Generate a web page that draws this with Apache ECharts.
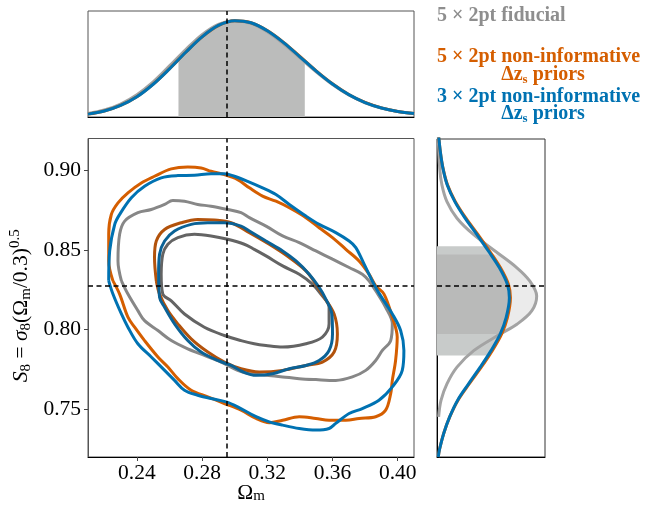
<!DOCTYPE html>
<html>
<head>
<meta charset="utf-8">
<script src="https://cdn.jsdelivr.net/npm/echarts@6/dist/echarts.min.js"></script>
<style>
html,body{margin:0;padding:0;background:#fff;}
#chart{width:647px;height:506px;}
</style>
</head>
<body>
<div id="chart"></div>
<script>
// ---------------- data ----------------
const omTicks = [0.24, 0.28, 0.32, 0.36, 0.40];
const s8Ticks = [0.75, 0.80, 0.85, 0.90];
const fidOm = 0.295;
const fidS8 = 0.8275;

const legendLabels = ['5 × 2pt fiducial', '5 × 2pt non-informative', 'Δz', '3 × 2pt non-informative'];

// 2D contours [Omega_m, S8]
const grayOuter = [[0.2305,0.8306],[0.2284,0.8431],[0.2294,0.8598],[0.2325,0.8681],[0.2406,0.8734],[0.2488,0.8754],[0.2570,0.8786],[0.2620,0.8811],[0.2692,0.8806],[0.2773,0.8786],[0.2855,0.8775],[0.2957,0.8754],[0.3039,0.8734],[0.3090,0.8703],[0.3192,0.8650],[0.3294,0.8588],[0.3396,0.8546],[0.3498,0.8494],[0.3600,0.8442],[0.3702,0.8390],[0.3783,0.8348],[0.3824,0.8306],[0.3865,0.8244],[0.3926,0.8140],[0.3967,0.8036],[0.3957,0.7931],[0.3906,0.7869],[0.3865,0.7806],[0.3804,0.7744],[0.3722,0.7703],[0.3620,0.7681],[0.3498,0.7686],[0.3396,0.7692],[0.3294,0.7703],[0.3192,0.7713],[0.3090,0.7723],[0.3018,0.7744],[0.2917,0.7796],[0.2814,0.7838],[0.2712,0.7879],[0.2611,0.7931],[0.2529,0.7994],[0.2447,0.8056],[0.2406,0.8119],[0.2345,0.8223]];
const grayInner = [[0.2549,0.8348],[0.2559,0.8473],[0.2590,0.8536],[0.2651,0.8578],[0.2753,0.8598],[0.2855,0.8588],[0.2957,0.8567],[0.3059,0.8536],[0.3120,0.8504],[0.3192,0.8463],[0.3294,0.8400],[0.3396,0.8348],[0.3477,0.8286],[0.3529,0.8223],[0.3579,0.8140],[0.3579,0.8036],[0.3538,0.7953],[0.3437,0.7911],[0.3294,0.7890],[0.3192,0.7900],[0.3120,0.7911],[0.3039,0.7931],[0.2937,0.7963],[0.2814,0.8015],[0.2692,0.8098],[0.2611,0.8181],[0.2559,0.8223]];
const orangeOuter = [[0.2253,0.8306],[0.2227,0.8431],[0.2227,0.8598],[0.2243,0.8723],[0.2284,0.8796],[0.2345,0.8859],[0.2427,0.8921],[0.2508,0.8963],[0.2611,0.9009],[0.2712,0.9021],[0.2794,0.9015],[0.2855,0.8994],[0.2937,0.8973],[0.3018,0.8942],[0.3090,0.8890],[0.3171,0.8838],[0.3253,0.8806],[0.3335,0.8765],[0.3437,0.8703],[0.3518,0.8640],[0.3600,0.8578],[0.3682,0.8504],[0.3763,0.8431],[0.3824,0.8348],[0.3865,0.8275],[0.3916,0.8223],[0.3967,0.8078],[0.3997,0.7953],[0.3987,0.7806],[0.3967,0.7681],[0.3957,0.7598],[0.3926,0.7494],[0.3865,0.7453],[0.3763,0.7442],[0.3682,0.7431],[0.3579,0.7431],[0.3498,0.7442],[0.3396,0.7453],[0.3294,0.7431],[0.3212,0.7415],[0.3131,0.7442],[0.3039,0.7494],[0.2937,0.7536],[0.2835,0.7578],[0.2733,0.7619],[0.2651,0.7692],[0.2590,0.7765],[0.2529,0.7828],[0.2447,0.7931],[0.2386,0.8015],[0.2345,0.8078],[0.2294,0.8223]];
const orangeInner = [[0.2519,0.8306],[0.2508,0.8453],[0.2519,0.8556],[0.2570,0.8629],[0.2672,0.8671],[0.2773,0.8692],[0.2876,0.8688],[0.2978,0.8671],[0.3090,0.8609],[0.3212,0.8536],[0.3335,0.8453],[0.3437,0.8369],[0.3498,0.8286],[0.3549,0.8203],[0.3610,0.8098],[0.3630,0.7973],[0.3610,0.7859],[0.3538,0.7796],[0.3437,0.7775],[0.3294,0.7744],[0.3151,0.7734],[0.3039,0.7754],[0.2937,0.7796],[0.2835,0.7859],[0.2733,0.7942],[0.2651,0.8036],[0.2590,0.8119],[0.2539,0.8223]];
const blueOuter = [[0.2227,0.8306],[0.2233,0.8494],[0.2264,0.8661],[0.2294,0.8723],[0.2366,0.8828],[0.2447,0.8900],[0.2549,0.8953],[0.2651,0.8967],[0.2753,0.8969],[0.2855,0.8978],[0.2937,0.8978],[0.2998,0.8963],[0.3079,0.8931],[0.3171,0.8890],[0.3253,0.8848],[0.3335,0.8786],[0.3437,0.8713],[0.3518,0.8661],[0.3620,0.8609],[0.3702,0.8556],[0.3743,0.8515],[0.3794,0.8411],[0.3844,0.8306],[0.3885,0.8229],[0.3967,0.8098],[0.4018,0.7994],[0.4038,0.7869],[0.4028,0.7744],[0.3967,0.7640],[0.3885,0.7556],[0.3783,0.7504],[0.3702,0.7473],[0.3620,0.7411],[0.3579,0.7379],[0.3498,0.7369],[0.3396,0.7379],[0.3294,0.7400],[0.3212,0.7421],[0.3131,0.7453],[0.3018,0.7515],[0.2947,0.7546],[0.2855,0.7567],[0.2773,0.7588],[0.2692,0.7619],[0.2631,0.7681],[0.2570,0.7744],[0.2488,0.7828],[0.2406,0.7911],[0.2345,0.8015],[0.2305,0.8098],[0.2253,0.8223]];
const blueInner = [[0.2533,0.8348],[0.2539,0.8473],[0.2570,0.8556],[0.2631,0.8619],[0.2733,0.8661],[0.2835,0.8671],[0.2937,0.8671],[0.3039,0.8650],[0.3090,0.8619],[0.3192,0.8556],[0.3294,0.8494],[0.3376,0.8431],[0.3457,0.8348],[0.3518,0.8265],[0.3559,0.8192],[0.3596,0.8098],[0.3600,0.7973],[0.3579,0.7869],[0.3518,0.7806],[0.3437,0.7775],[0.3335,0.7754],[0.3232,0.7723],[0.3131,0.7713],[0.3040,0.7740],[0.2978,0.7775],[0.2896,0.7806],[0.2794,0.7859],[0.2712,0.7931],[0.2631,0.8036],[0.2570,0.8140],[0.2539,0.8203]];

// 1D marginal of Omega_m [Omega_m, density]
const topGray = [[0.21,0.036],[0.22,0.072],[0.23,0.135],[0.24,0.232],[0.25,0.365],[0.26,0.53],[0.27,0.70],[0.28,0.855],[0.29,0.962],[0.30,1.0],[0.31,0.972],[0.32,0.885],[0.33,0.76],[0.34,0.615],[0.35,0.468],[0.36,0.336],[0.37,0.228],[0.38,0.148],[0.39,0.093],[0.40,0.057],[0.41,0.036]];
const topOrange = [[0.21,0.03],[0.22,0.063],[0.23,0.121],[0.24,0.211],[0.25,0.341],[0.26,0.501],[0.27,0.672],[0.28,0.831],[0.29,0.948],[0.30,0.998],[0.31,0.978],[0.32,0.897],[0.33,0.775],[0.34,0.628],[0.35,0.479],[0.36,0.345],[0.37,0.234],[0.38,0.151],[0.39,0.095],[0.40,0.058],[0.41,0.036]];
const topBlue = [[0.21,0.03],[0.22,0.062],[0.23,0.12],[0.24,0.21],[0.25,0.34],[0.26,0.50],[0.27,0.672],[0.28,0.832],[0.29,0.95],[0.30,1.0],[0.31,0.978],[0.32,0.895],[0.33,0.772],[0.34,0.625],[0.35,0.476],[0.36,0.342],[0.37,0.232],[0.38,0.15],[0.39,0.094],[0.40,0.058],[0.41,0.036]];
const topBand = [[0.2655,0.595],[0.27,0.672],[0.28,0.832],[0.29,0.95],[0.30,1.0],[0.31,0.978],[0.32,0.895],[0.33,0.772],[0.34,0.625],[0.343,0.58]];

// 1D marginal of S8 [S8, density]
const rightGray = [[0.9223,0.012],[0.9015,0.025],[0.891,0.046],[0.8806,0.092],[0.8702,0.185],[0.8598,0.34],[0.8494,0.54],[0.839,0.74],[0.8306,0.86],[0.8213,0.923],[0.8119,0.877],[0.8035,0.74],[0.7973,0.585],[0.7869,0.34],[0.7765,0.185],[0.766,0.092],[0.7556,0.037],[0.7452,0.015]];
const rightOrange = [[0.9223,0.015],[0.9119,0.031],[0.9015,0.056],[0.891,0.098],[0.8806,0.17],[0.8702,0.268],[0.8598,0.38],[0.8494,0.488],[0.839,0.588],[0.8285,0.662],[0.8202,0.68],[0.8077,0.652],[0.7973,0.598],[0.7869,0.512],[0.7765,0.41],[0.766,0.298],[0.7556,0.193],[0.7452,0.118],[0.7348,0.062],[0.7244,0.022],[0.72,0.012]];
const rightBlue = [[0.9223,0.015],[0.9119,0.031],[0.9015,0.055],[0.891,0.095],[0.8806,0.165],[0.8702,0.26],[0.8598,0.37],[0.8494,0.477],[0.839,0.578],[0.8285,0.652],[0.8202,0.67],[0.8077,0.64],[0.7973,0.585],[0.7869,0.5],[0.7765,0.4],[0.766,0.292],[0.7556,0.19],[0.7452,0.117],[0.7348,0.062],[0.7244,0.022],[0.72,0.012]];
const rightGrayBand = [[0.7973,0.585],[0.8035,0.74],[0.8119,0.877],[0.8213,0.923],[0.8306,0.86],[0.839,0.74],[0.8473,0.58]];
const rightWideBand = [[0.7838,0.47],[0.7869,0.5],[0.7973,0.585],[0.8077,0.64],[0.8202,0.67],[0.8285,0.652],[0.839,0.578],[0.8494,0.477],[0.8525,0.445]];
const rightInnerBand = [[0.7973,0.585],[0.8077,0.64],[0.8202,0.67],[0.8285,0.652],[0.839,0.578],[0.8473,0.497]];

// ---------------- chart ----------------
const SERIF = '"Liberation Serif", "Times New Roman", serif';
const C_GRAY = '#a3a3a3', C_ORANGE = '#d55e00', C_BLUE = '#0072b2';
const chart = echarts.init(document.getElementById('chart'), null, {renderer: 'canvas'});

function closed(arr) { return arr.concat([arr[0]]); }
function contour(data, color, z) {
  return {type: 'line', xAxisIndex: 1, yAxisIndex: 1, data: closed(data), smooth: 0.35,
    symbol: 'none', silent: true, z: z, lineStyle: {color: color, width: 3}};
}
// fill under a marginal curve, horizontal (top panel) or vertical (right panel)
function bandFill(idx, pts, color, vertical, z) {
  return {type: 'custom', xAxisIndex: idx, yAxisIndex: idx, data: [0], silent: true, z: z,
    renderItem: function (params, api) {
      let poly;
      if (!vertical) {
        poly = [[pts[0][0], 0]].concat(pts).concat([[pts[pts.length - 1][0], 0]]);
      } else {
        const p = pts.map(d => [d[1], d[0]]);
        poly = [[0, pts[0][0]]].concat(p).concat([[0, pts[pts.length - 1][0]]]);
      }
      return {type: 'polygon', shape: {points: poly.map(d => api.coord(d))}, style: {fill: color}};
    }};
}
function curve(idx, pts, color, vertical, z, extra) {
  const s = {type: 'line', xAxisIndex: idx, yAxisIndex: idx, smooth: 0.35, symbol: 'none', silent: true, z: z,
    data: vertical ? pts.map(d => [d[1], d[0]]) : pts, lineStyle: {color: color, width: 3}};
  return Object.assign(s, extra || {});
}
const dashStyle = {color: '#000', width: 1.5, type: [5, 3.5]};
function mline(list) {
  return {markLine: {silent: true, symbol: 'none', precision: 5, label: {show: false}, lineStyle: dashStyle, animation: false, z: 10, data: list}};
}

const hiddenAxis = {axisLabel: {show: false}, axisTick: {show: false}, splitLine: {show: false}};
const tickFont = {fontFamily: SERIF, fontSize: 21.5, color: '#000'};

const option = {
  animation: false,
  backgroundColor: '#fff',
  grid: [
    {left: 88, top: 11, width: 326, height: 106, show: true, borderColor: '#555', borderWidth: 1, outerBoundsMode: 'none'},
    {left: 88, top: 138.5, width: 326, height: 318.5, show: true, borderColor: '#555', borderWidth: 1, outerBoundsMode: 'none'},
    {left: 437, top: 139, width: 108, height: 318, show: true, borderColor: '#333', borderWidth: 1, outerBoundsMode: 'none'}
  ],
  xAxis: [
    Object.assign({gridIndex: 0, type: 'value', min: 0.21, max: 0.41, axisLine: {show: true, lineStyle: {color: '#000'}}}, hiddenAxis),
    {gridIndex: 1, type: 'value', min: 0.21, max: 0.41,
      name: 'Ω{s|m}', nameLocation: 'middle', nameGap: 25, nameMoveOverlap: false,
      nameTextStyle: {fontFamily: SERIF, fontSize: 21.5, color: '#000',
        rich: {s: {fontFamily: SERIF, fontSize: 15, color: '#000', verticalAlign: 'bottom', lineHeight: 15}}},
      axisLine: {show: true, lineStyle: {color: '#000', width: 1}},
      axisTick: {show: true, customValues: omTicks, length: 4, lineStyle: {color: '#444'}},
      axisLabel: Object.assign({customValues: omTicks, margin: 5, formatter: v => v.toFixed(2)}, tickFont),
      splitLine: {show: false}},
    Object.assign({gridIndex: 2, type: 'value', min: 0, max: 1, axisLine: {show: true, lineStyle: {color: '#000'}}}, hiddenAxis)
  ],
  yAxis: [
    Object.assign({gridIndex: 0, type: 'value', min: 0, max: 1.1, axisLine: {show: false}}, hiddenAxis),
    {gridIndex: 1, type: 'value', min: 0.72, max: 0.92,
      name: '{i|S}{s|8} = {i|σ}{s|8}(Ω{s|m}/0.3){p|0.5}', nameLocation: 'middle', nameGap: 54, nameMoveOverlap: false,
      nameTextStyle: {fontFamily: SERIF, fontSize: 21.5, color: '#000', lineHeight: 26, padding: [0, 16, 0, 0],
        rich: {
          i: {fontFamily: SERIF, fontSize: 21.5, fontStyle: 'italic', color: '#000'},
          s: {fontFamily: SERIF, fontSize: 15, color: '#000', verticalAlign: 'bottom', lineHeight: 15},
          p: {fontFamily: SERIF, fontSize: 15, color: '#000', verticalAlign: 'top', lineHeight: 15}
        }},
      axisLine: {show: true, lineStyle: {color: '#555', width: 1}},
      axisTick: {show: true, customValues: s8Ticks, length: 4, lineStyle: {color: '#444'}},
      axisLabel: Object.assign({customValues: s8Ticks, margin: 7, formatter: v => v.toFixed(2)}, tickFont),
      splitLine: {show: false}},
    Object.assign({gridIndex: 2, type: 'value', min: 0.72, max: 0.92, axisLine: {show: true, lineStyle: {color: '#000'}}}, hiddenAxis)
  ],
  series: [
    // top marginal
    bandFill(0, topBand, '#bbbcbb', false, 1),
    curve(0, topGray, C_GRAY, false, 2),
    curve(0, topOrange, C_ORANGE, false, 3),
    curve(0, topBlue, C_BLUE, false, 4, mline([{xAxis: fidOm}])),
    // main contours
    contour(grayOuter, '#878787', 2),
    contour(grayInner, '#646464', 2),
    contour(orangeOuter, C_ORANGE, 3),
    contour(orangeInner, '#b2520b', 3),
    contour(blueOuter, C_BLUE, 4),
    Object.assign(contour(blueInner, '#0b6296', 4), mline([{xAxis: fidOm}, {yAxis: fidS8}])),
    // right marginal
    bandFill(2, rightGrayBand, '#ebebeb', true, 1),
    bandFill(2, rightWideBand, '#c8cbca', true, 1),
    bandFill(2, rightInnerBand, '#b9bab9', true, 1),
    curve(2, rightGray, C_GRAY, true, 2),
    curve(2, rightOrange, C_ORANGE, true, 3),
    curve(2, rightBlue, C_BLUE, true, 4, mline([{yAxis: fidS8}]))
  ],
  graphic: [
    {type: 'text', x: 437, y: 16, style: {text: legendLabels[0], fontFamily: SERIF, fontSize: 20, fontWeight: 'bold', fill: '#8e8e8e', textAlign: 'left', textVerticalAlign: 'middle'}},
    {type: 'text', x: 437, y: 57, style: {text: legendLabels[1], fontFamily: SERIF, fontSize: 20, fontWeight: 'bold', fill: C_ORANGE, textAlign: 'left', textVerticalAlign: 'middle'}},
    {type: 'text', x: 543, y: 75, style: {text: '{a|' + legendLabels[2] + '}{b|s}{a| priors}', fill: C_ORANGE, textAlign: 'center', textVerticalAlign: 'middle',
      rich: {a: {fontFamily: SERIF, fontSize: 20, fontWeight: 'bold', fill: C_ORANGE, lineHeight: 22},
             b: {fontFamily: SERIF, fontSize: 13, fontWeight: 'bold', fill: C_ORANGE, verticalAlign: 'bottom', lineHeight: 13}}}},
    {type: 'text', x: 437, y: 97, style: {text: legendLabels[3], fontFamily: SERIF, fontSize: 20, fontWeight: 'bold', fill: C_BLUE, textAlign: 'left', textVerticalAlign: 'middle'}},
    {type: 'text', x: 543, y: 114, style: {text: '{a|' + legendLabels[2] + '}{b|s}{a| priors}', fill: C_BLUE, textAlign: 'center', textVerticalAlign: 'middle',
      rich: {a: {fontFamily: SERIF, fontSize: 20, fontWeight: 'bold', fill: C_BLUE, lineHeight: 22},
             b: {fontFamily: SERIF, fontSize: 13, fontWeight: 'bold', fill: C_BLUE, verticalAlign: 'bottom', lineHeight: 13}}}}
  ]
};
chart.setOption(option);
</script>
</body>
</html>
